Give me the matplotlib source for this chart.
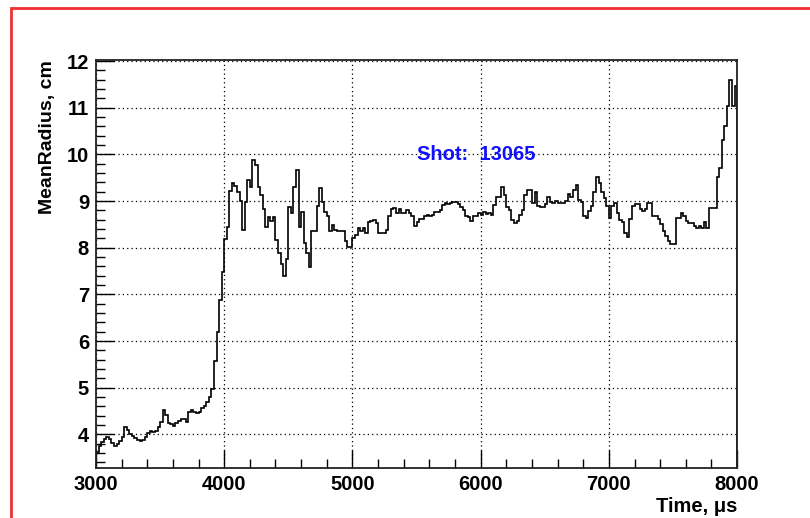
import matplotlib
matplotlib.use("Agg")
import matplotlib.pyplot as plt
import matplotlib.patches as patches
import numpy as np

# mean radius per 20 us bin, 3000..8000 us
radius = [
    3.63, 3.75, 3.84, 3.91, 3.95, 3.91, 3.82, 3.75, 3.79, 3.86,
    3.95, 4.15, 4.09, 4.00, 3.96, 3.93, 3.89, 3.86, 3.88, 3.95,
    4.02, 4.07, 4.06, 4.07, 4.16, 4.27, 4.52, 4.42, 4.25, 4.22,
    4.18, 4.25, 4.29, 4.34, 4.32, 4.27, 4.49, 4.52, 4.49, 4.45,
    4.49, 4.56, 4.60, 4.70, 4.80, 4.97,
    5.58, 6.20, 6.87, 7.48, 8.18, 8.45, 9.22, 9.39, 9.32, 9.20,
    9.00, 8.38, 8.97,
    9.46, 9.30, 9.89, 9.77, 9.30, 9.13, 8.84, 8.44, 8.65, 8.57,
    8.65, 8.17, 7.89, 7.66, 7.39, 7.76, 8.88, 8.75, 9.30, 9.67,
    8.44, 8.77, 8.11, 7.89, 7.58, 8.35, 8.35, 8.90, 9.29, 8.97,
    8.77, 8.67,
    8.35, 8.49, 8.39, 8.35, 8.35, 8.35, 8.14, 8.01, 8.01, 8.21,
    8.28, 8.42, 8.35, 8.42, 8.32, 8.56, 8.58, 8.60, 8.53, 8.32,
    8.32, 8.32, 8.39, 8.67, 8.82, 8.85, 8.74, 8.82, 8.74, 8.74,
    8.81, 8.74, 8.67, 8.46, 8.56, 8.61, 8.61, 8.67, 8.70, 8.67,
    8.70, 8.77, 8.77, 8.81, 8.92, 8.95,
    8.93, 8.96, 8.99, 8.98, 8.94, 8.87, 8.81, 8.69, 8.65, 8.58,
    8.67, 8.69, 8.74, 8.70, 8.77, 8.73, 8.75, 8.70, 8.92, 9.09,
    9.09, 9.30, 9.12, 8.88, 8.81, 8.60, 8.53, 8.58, 8.70, 8.81,
    9.13, 9.23, 9.23, 8.96, 9.20, 8.90, 8.88, 8.88, 8.94, 9.09,
    8.99, 8.95, 9.00, 8.95, 8.95, 8.95, 9.00, 9.16, 9.09, 9.23,
    9.34, 9.02, 8.99, 8.67,
    8.64, 8.78, 8.89, 9.20, 9.52, 9.38, 9.20, 9.06, 8.89, 8.64,
    8.90, 8.96, 8.75, 8.60, 8.55, 8.32, 8.22, 8.62, 8.90, 8.94,
    8.94, 8.82, 8.78, 8.82, 8.96, 8.96, 8.68, 8.68, 8.61, 8.50,
    8.36, 8.25, 8.15, 8.08, 8.08, 8.64, 8.64, 8.75, 8.68, 8.58,
    8.52, 8.52, 8.46, 8.43, 8.46, 8.43, 8.55, 8.43, 8.85, 8.86,
    8.86, 9.52, 9.70, 10.30, 10.60, 11.03, 11.60, 11.03, 11.46,
]
t_range = (3000, 8000)
shot = "13065"
xticks = [3000, 4000, 5000, 6000, 7000, 8000]
yticks = [4, 5, 6, 7, 8, 9, 10, 11, 12]

plt.rcParams['font.family'] = ['Liberation Sans', 'DejaVu Sans']
plt.rcParams['font.weight'] = 'bold'

fig = plt.figure(figsize=(8.1, 5.18), dpi=100)
ax = fig.add_axes([0.1185, 0.0965, 0.7915, 0.7875])

edges = np.linspace(t_range[0], t_range[1], len(radius) + 1)
ax.stairs(radius, edges, color='black', lw=1.2)

ax.set_xlim(*t_range)
ax.set_ylim(3.28, 12.02)
ax.set_xticks(xticks)
ax.set_yticks(yticks)
ax.set_xticks(np.arange(3000, 8001, 200), minor=True)
ax.set_yticks(np.arange(3.4, 12.01, 0.2), minor=True)
ax.tick_params(which='major', direction='in', length=13, width=1,
               labelsize=14.5, top=False, right=False, pad=5)
ax.tick_params(which='minor', direction='in', length=6.5, width=1)
for lab in ax.get_xticklabels() + ax.get_yticklabels():
    lab.set_fontweight('bold')
ax.grid(True, which='major', color='black', ls=(0, (1, 2.5)), lw=0.9)
for s in ax.spines.values():
    s.set_linewidth(1.3)
    s.set_color('#222222')

ax.set_xlabel("Time, \u03bcs", fontsize=14.5, fontweight='bold', loc='right', labelpad=2)
ax.set_ylabel("MeanRadius, cm", fontsize=14, fontweight='bold', loc='top', labelpad=8)

ax.text(5500, 10.0, "Shot:  " + shot, color='#1010ff', fontsize=14.5,
        fontweight='bold', va='center', ha='left')

# red canvas border
border = patches.Rectangle((11 / 810, -0.2), 1.3, 0.2 + 1 - 8 / 518,
                           transform=fig.transFigure, fill=False,
                           edgecolor='#f03030', lw=2, clip_on=False)
fig.patches.append(border)

fig.savefig("out.png", dpi=100)
